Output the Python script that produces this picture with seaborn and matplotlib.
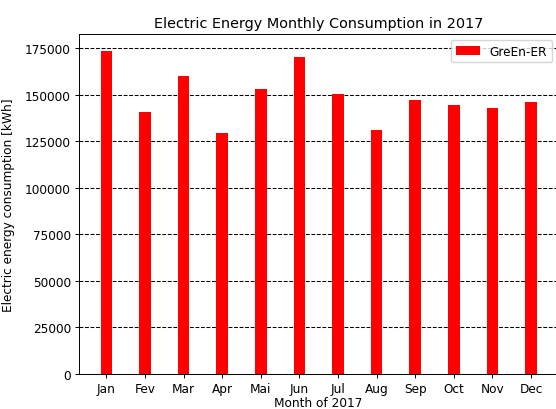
import numpy as np
import pandas as pd
import matplotlib
matplotlib.use("Agg")
import matplotlib.pyplot as plt
import seaborn as sns

# monthly consumption values (kWh)
months = ['Jan', 'Fev', 'Mar', 'Apr', 'Mai', 'Jun',
          'Jul', 'Aug', 'Sep', 'Oct', 'Nov', 'Dec']
consumption = [173600, 140700, 160000, 129400, 152800, 170400,
               150500, 130900, 147300, 144300, 143000, 146000]
series_label = 'GreEn-ER'

df = pd.DataFrame({'month': months, 'kwh': consumption})

fs = 8.7
fig = plt.figure(figsize=(5.56, 4.10), dpi=100)
ax = fig.add_axes([0.1426, 0.0861, 0.861, 0.8293])

sns.barplot(data=df, x='month', y='kwh', color='red', saturation=1,
            width=0.3, linewidth=0, label=series_label, ax=ax)

ax.set_xlim(-0.7, 11.7)
ax.set_ylim(0, 182700)
ax.yaxis.grid(True, linestyle='--', color='black', linewidth=0.75)
ax.set_axisbelow(True)
for sp in ax.spines.values():
    sp.set_linewidth(0.7)
ax.tick_params(labelsize=fs, width=0.7, length=3, pad=3)

ax.set_title('Electric Energy Monthly Consumption in 2017', fontsize=10.4, pad=5)
ax.set_xlabel('Month of 2017', fontsize=fs, labelpad=0.5)
ax.set_ylabel('Electric energy consumption [kWh]', fontsize=fs, labelpad=7)
ax.legend(loc='upper right', fontsize=fs)

fig.savefig('out.png', dpi=100)
